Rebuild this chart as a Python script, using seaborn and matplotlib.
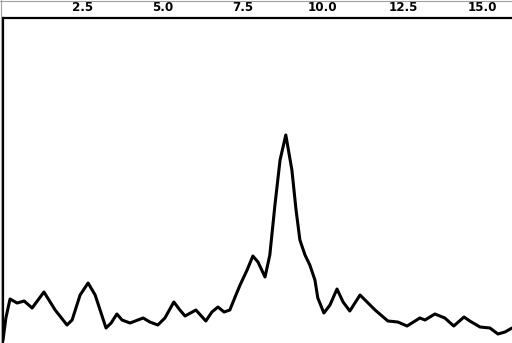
import matplotlib
matplotlib.use("Agg")
import matplotlib.pyplot as plt
import seaborn as sns
import pandas as pd
from matplotlib.lines import Line2D

x_vals = [0.00, 0.09, 0.22, 0.44, 0.66, 0.91, 1.28, 1.63, 2.00, 2.16, 2.41, 2.66, 2.88,
          3.22, 3.38, 3.56, 3.72, 3.97, 4.38, 4.59, 4.84, 5.06, 5.34, 5.53, 5.69, 6.03,
          6.34, 6.53, 6.72, 6.91, 7.09, 7.28, 7.41, 7.63, 7.81, 7.97, 8.19, 8.34, 8.50,
          8.66, 8.84, 9.03, 9.16, 9.28, 9.44, 9.59, 9.75, 9.84, 10.03, 10.22, 10.44,
          10.63, 10.84, 11.16, 11.63, 12.03, 12.34, 12.63, 13.03, 13.19, 13.50, 13.81,
          14.09, 14.41, 14.59, 14.91, 15.22, 15.47, 15.69, 15.91]
y_vals = [3, 25, 44, 40, 42, 35, 51, 33, 18, 23, 48, 60, 48,
          15, 20, 29, 23, 20, 25, 21, 18, 25, 41, 33, 27, 33,
          22, 31, 36, 31, 33, 48, 58, 73, 87, 81, 66, 88, 138,
          183, 208, 173, 133, 103, 88, 78, 63, 45, 30, 38, 54,
          41, 32, 48, 33, 22, 21, 17, 25, 23, 29, 25,
          17, 26, 22, 16, 15, 9, 11, 15]
tick_vals = [2.5, 5.0, 7.5, 10.0, 12.5, 15.0]
tick_labels = ["2.5", "5.0", "7.5", "10.0", "12.5", "15.0"]

sns.set_style("white")
df = pd.DataFrame({"x": x_vals, "y": y_vals})

fig = plt.figure(figsize=(5.12, 3.43), dpi=100)
ax = fig.add_axes([3 / 512, 0, 1 - 3 / 512, (343 - 18) / 343])
sns.lineplot(data=df, x="x", y="y", ax=ax, color="black", linewidth=2.2, sort=False)

ax.set_xlim(0, 15.91)
ax.set_ylim(0, 325)
ax.set_xlabel("")
ax.set_ylabel("")
ax.set_yticks([])
ax.xaxis.tick_top()
ax.set_xticks(tick_vals)
ax.set_xticklabels(tick_labels, fontsize=8.6, fontweight="bold", color="black")
ax.tick_params(axis="x", length=0, pad=3)
for side in ["right", "bottom"]:
    ax.spines[side].set_visible(False)
for side in ["top", "left"]:
    ax.spines[side].set_color("black")
    ax.spines[side].set_linewidth(1.6)

fig.add_artist(Line2D([0, 1], [1 - 0.5 / 343, 1 - 0.5 / 343], transform=fig.transFigure,
                      color="#a0a0a0", linewidth=0.8))
fig.add_artist(Line2D([0.5 / 512, 0.5 / 512], [0, 1], transform=fig.transFigure,
                      color="#a0a0a0", linewidth=0.8))

fig.savefig("out.png", dpi=100)
